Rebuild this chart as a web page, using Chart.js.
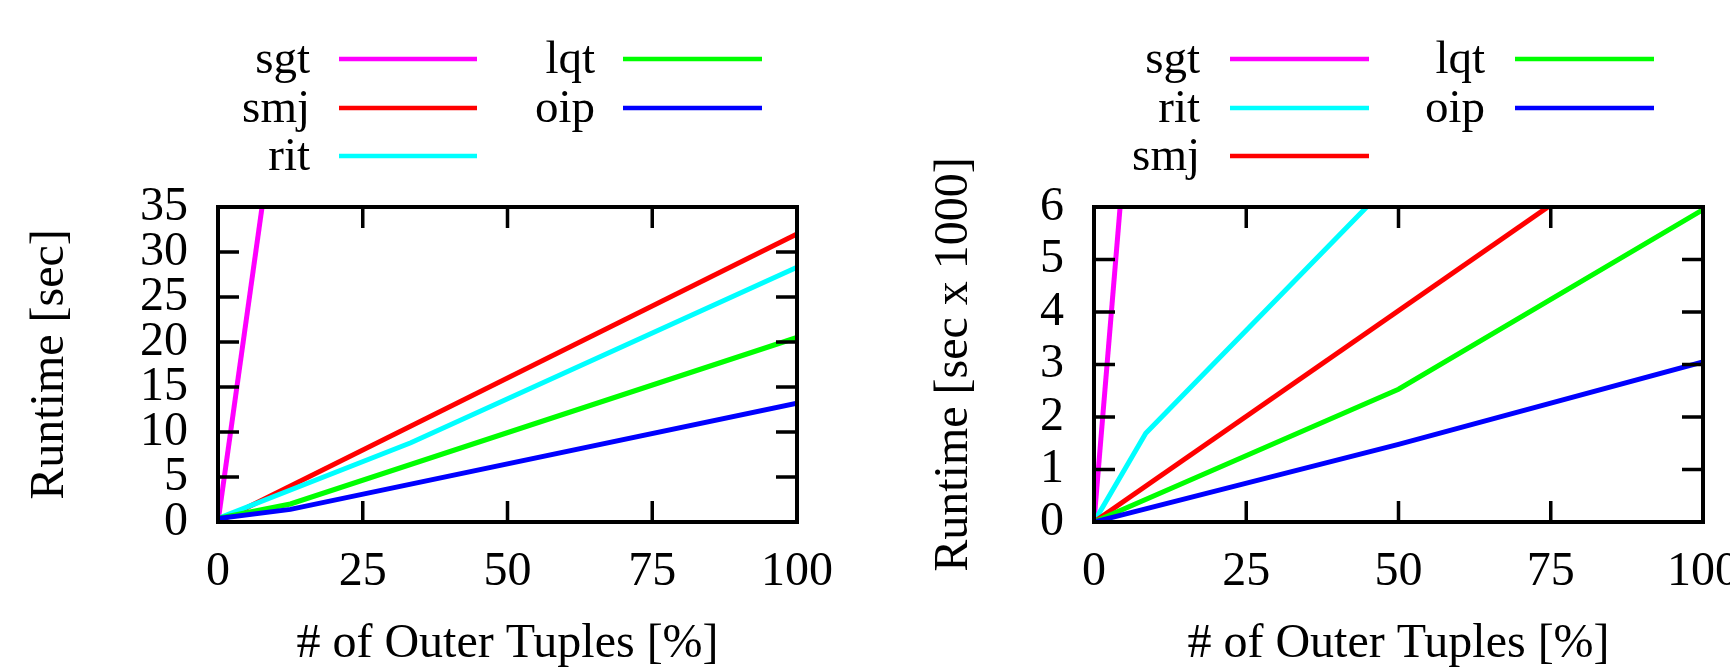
<!DOCTYPE html>
<html>
<head>
<meta charset="utf-8">
<script src="https://cdn.jsdelivr.net/npm/chart.js@4.4.1/dist/chart.umd.min.js"></script>
<style>
  body { margin: 0; background: #fff; }
  .panel { position: absolute; top: 0; width: 865px; height: 668px; }
  #left-panel { left: 0; }
  #right-panel { left: 865px; }
</style>
</head>
<body>
<div class="panel" id="left-panel"><canvas id="left-chart" width="865" height="668"></canvas></div>
<div class="panel" id="right-panel"><canvas id="right-chart" width="865" height="668"></canvas></div>
<script>
// Tick labels
const xTickValues = [0, 25, 50, 75, 100];
const leftYTickValues = [0, 5, 10, 15, 20, 25, 30, 35];
const rightYTickValues = [0, 1, 2, 3, 4, 5, 6];

// Left panel series (x = % of outer tuples, y = runtime in sec)
const leftSgtX = [0, 12.5];
const leftSgtY = [0, 57.5];
const leftSmjX = [0, 100];
const leftSmjY = [0, 32.0];
const leftRitX = [0, 33.3, 100];
const leftRitY = [0.4, 8.8, 28.3];
const leftLqtX = [0, 12.5, 100];
const leftLqtY = [0.4, 2.0, 20.5];
const leftOipX = [0, 12.5, 100];
const leftOipY = [0.4, 1.4, 13.2];

// Right panel series (y = runtime in sec x 1000)
const rightSgtX = [0, 8.5];
const rightSgtY = [0, 11.9];
const rightRitX = [0, 8.5, 50];
const rightRitY = [0, 1.69, 6.62];
const rightSmjX = [0, 100];
const rightSmjY = [0, 8.05];
const rightLqtX = [0, 50, 100];
const rightLqtY = [0, 2.53, 5.95];
const rightOipX = [0, 50, 100];
const rightOipY = [0, 1.48, 3.05];

const FONT = '"Liberation Serif", "Times New Roman", serif';

function pts(xs, ys) {
    return xs.map((x, i) => ({ x: x, y: ys[i] }));
}

function makeDataset(label, color, xs, ys, i) {
    return {
        label: label,
        data: pts(xs, ys),
        borderColor: color,
        backgroundColor: color,
        borderWidth: 5,
        pointRadius: 0,
        tension: 0,
        fill: false,
        order: 10 - i // later series drawn on top, like gnuplot
    };
}

// Frame with inward ticks on all four sides
const framePlugin = {
    id: 'frame',
    afterDatasetsDraw(chart) {
        const { ctx, chartArea: a, scales } = chart;
        const x = scales.x, y = scales.y;
        const len = 21;
        ctx.save();
        ctx.strokeStyle = '#000';
        ctx.lineWidth = 3.5;
        ctx.beginPath();
        x.ticks.forEach(t => {
            const px = x.getPixelForValue(t.value);
            ctx.moveTo(px, a.bottom); ctx.lineTo(px, a.bottom - len);
            ctx.moveTo(px, a.top); ctx.lineTo(px, a.top + len);
        });
        y.ticks.forEach(t => {
            const py = y.getPixelForValue(t.value);
            ctx.moveTo(a.left, py); ctx.lineTo(a.left + len, py);
            ctx.moveTo(a.right, py); ctx.lineTo(a.right - len, py);
        });
        ctx.stroke();
        ctx.lineWidth = 4;
        ctx.strokeRect(a.left, a.top, a.right - a.left, a.bottom - a.top);
        ctx.restore();
    }
};

// gnuplot style key: text right aligned, sample line to its right, column major
const keyPlugin = {
    id: 'gpkey',
    afterDraw(chart, args, opts) {
        const ctx = chart.ctx;
        ctx.save();
        ctx.font = '47px ' + FONT;
        ctx.fillStyle = '#000';
        ctx.textAlign = 'right';
        ctx.textBaseline = 'alphabetic';
        chart.data.datasets.forEach((ds, i) => {
            const col = opts.cols[Math.floor(i / opts.rows.length)];
            const rowY = opts.rows[i % opts.rows.length];
            ctx.fillText(ds.label, col.text, rowY + 14);
            ctx.strokeStyle = ds.borderColor;
            ctx.lineWidth = 4.5;
            ctx.beginPath();
            ctx.moveTo(col.x0, rowY);
            ctx.lineTo(col.x1, rowY);
            ctx.stroke();
        });
        ctx.restore();
    }
};

function makeChart(canvasId, datasets, yTicks, yTitle, yWidth, yTitlePad, padRight, keyCols) {
    const ctx = document.getElementById(canvasId).getContext('2d');
    return new Chart(ctx, {
        type: 'line',
        data: { datasets: datasets },
        options: {
            responsive: false,
            animation: false,
            devicePixelRatio: 1,
            layout: { padding: { top: 207, right: padRight, bottom: 0, left: 0 } },
            plugins: {
                legend: { display: false },
                tooltip: { enabled: false },
                gpkey: { rows: [59, 108, 156], cols: keyCols }
            },
            scales: {
                x: {
                    type: 'linear',
                    min: 0,
                    max: 100,
                    afterBuildTicks: s => { s.ticks = xTickValues.map(v => ({ value: v })); },
                    ticks: {
                        color: '#000',
                        font: { family: FONT, size: 48, lineHeight: 1 },
                        padding: 26,
                        maxRotation: 0,
                        autoSkip: false
                    },
                    grid: { display: false, drawTicks: false },
                    border: { display: false },
                    title: {
                        display: true,
                        text: '# of Outer Tuples [%]',
                        color: '#000',
                        font: { family: FONT, size: 48, lineHeight: 1 },
                        padding: { top: 0, bottom: 0 }
                    },
                    afterFit: s => { s.height = 146; s.paddingLeft = 0; s.paddingRight = 0; }
                },
                y: {
                    type: 'linear',
                    min: yTicks[0],
                    max: yTicks[yTicks.length - 1],
                    afterBuildTicks: s => { s.ticks = yTicks.map(v => ({ value: v })); },
                    ticks: {
                        color: '#000',
                        font: { family: FONT, size: 48, lineHeight: 1 },
                        padding: 30,
                        autoSkip: false
                    },
                    grid: { display: false, drawTicks: false },
                    border: { display: false },
                    title: {
                        display: true,
                        text: yTitle,
                        color: '#000',
                        font: { family: FONT, size: 48, lineHeight: 1 },
                        padding: { top: yTitlePad, bottom: 0 }
                    },
                    afterFit: s => { s.width = yWidth; s.paddingTop = 0; s.paddingBottom = 0; }
                }
            }
        },
        plugins: [framePlugin, keyPlugin]
    });
}

const leftDatasets = [
    makeDataset('sgt', '#ff00ff', leftSgtX, leftSgtY, 0),
    makeDataset('smj', '#ff0000', leftSmjX, leftSmjY, 1),
    makeDataset('rit', '#00ffff', leftRitX, leftRitY, 2),
    makeDataset('lqt', '#00ff00', leftLqtX, leftLqtY, 3),
    makeDataset('oip', '#0000ff', leftOipX, leftOipY, 4)
];

const rightDatasets = [
    makeDataset('sgt', '#ff00ff', rightSgtX, rightSgtY, 0),
    makeDataset('rit', '#00ffff', rightRitX, rightRitY, 1),
    makeDataset('smj', '#ff0000', rightSmjX, rightSmjY, 2),
    makeDataset('lqt', '#00ff00', rightLqtX, rightLqtY, 3),
    makeDataset('oip', '#0000ff', rightOipX, rightOipY, 4)
];

makeChart('left-chart', leftDatasets, leftYTickValues, 'Runtime [sec]', 218, 26, 68,
    [{ text: 310, x0: 339, x1: 477 }, { text: 595, x0: 623, x1: 762 }]);

makeChart('right-chart', rightDatasets, rightYTickValues, 'Runtime [sec x 1000]', 229, 65.5, 27,
    [{ text: 335, x0: 365, x1: 504 }, { text: 620, x0: 650, x1: 789 }]);
</script>
</body>
</html>
